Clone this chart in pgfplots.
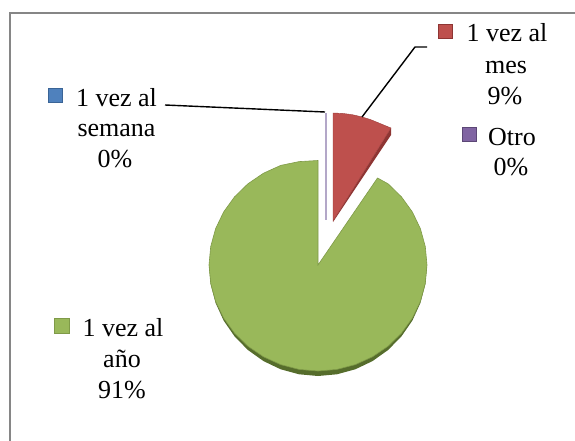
\documentclass[border=0pt]{standalone}
\usepackage{fontspec}
\setmainfont{Liberation Serif}
\usepackage{pgfplots}
\pgfplotsset{compat=1.18}
\definecolor{frame}{HTML}{868686}
\definecolor{azul}{HTML}{4F81BD}
\definecolor{azulb}{HTML}{3A6496}
\definecolor{rojo}{HTML}{BE504D}
\definecolor{rojob}{HTML}{8E3533}
\definecolor{verde}{HTML}{99B85A}
\definecolor{verdeb}{HTML}{566D2C}
\definecolor{verdel}{HTML}{7F9A48}
\definecolor{morado}{HTML}{8064A2}
\definecolor{moradob}{HTML}{5C4776}
\definecolor{moradol}{HTML}{B3A7C8}
\newcommand{\lab}[3]{\node[anchor=base, font=\fontsize{26bp}{31bp}\selectfont, inner sep=0pt] at (axis cs:#1,#2) {#3};}

\begin{document}
\begin{tikzpicture}
  \useasboundingbox (0,0) rectangle (575bp,441bp);
  \begin{axis}[
      anchor=south west, at={(0,0)},
      scale only axis, width=575bp, height=441bp,
      xmin=0, xmax=575, ymin=0, ymax=441, y dir=reverse,
      hide axis,
    ]
    % frame, only left and top show
    \addplot[frame, line width=2.2bp, mark=none] coordinates {(10,441) (10,13) (575,13)};

    % depth of the big slice
    \addplot[fill=verdeb, draw=none, mark=none] coordinates {
      (427,265) (425.3,284.3) (420.4,303) (412.4,320.5) (401.5,336.3) (388.1,350)
      (372.5,361.1) (355.3,369.3) (336.9,374.3) (318,376) (299.1,374.3) (280.7,369.3)
      (263.5,361.1) (247.9,350) (234.5,336.3) (223.6,320.5) (215.6,303) (210.7,284.3)
      (209,265)} -- cycle;

    % 1 vez al año, 91%
    \addplot[fill=verde, draw=verdel, line width=0.6bp, mark=none] coordinates {
      (318,265) (377.5,178) (388.1,183.8) (401.5,196.9) (412.4,212) (420.4,228.7)
      (425.3,246.6) (427,265) (425.3,283.4) (420.4,301.3) (412.4,318) (401.5,333.1)
      (388.1,346.2) (372.5,356.8) (355.3,364.6) (336.9,369.4) (318,371) (299.1,369.4)
      (280.7,364.6) (263.5,356.8) (247.9,346.2) (234.5,333.1) (223.6,318) (215.6,301.3)
      (210.7,283.4) (209,265) (210.7,246.6) (215.6,228.7) (223.6,212) (234.5,196.9)
      (247.9,183.8) (263.5,173.2) (280.7,165.4) (299.1,161.6) (318,160.5)} -- cycle;

    % 1 vez al mes, 9%
    \addplot[fill=rojob, draw=none, mark=none] coordinates {
      (391,128) (391,135) (333,222) (333,221)} -- cycle;
    \addplot[fill=rojo, draw=rojob!70!rojo, line width=0.4bp, mark=none] coordinates {
      (333,221) (333,113) (342.5,113.4) (351.9,114.6) (361.2,116.7) (370.3,119.5)
      (379.1,123.1) (391,128)} -- cycle;

    % the 0% slices come out as a thin line
    \addplot[moradol, line width=1.8bp, mark=none] coordinates {(326,113) (326,220)};

    % leader lines
    \addplot[black, line width=1.4bp, mark=none] coordinates {(165,105) (325,112)};
    \addplot[black, line width=1.4bp, mark=none] coordinates {(427,47) (415,47) (362,117)};

    % legend keys
    \addplot[only marks, mark=square*, mark size=7.2bp, mark options={draw=azulb, fill=azul, line width=0.8bp}] coordinates {(55.5,95.5)};
    \addplot[only marks, mark=square*, mark size=7.2bp, mark options={draw=rojob, fill=rojo, line width=0.8bp}] coordinates {(445.5,31.5)};
    \addplot[only marks, mark=square*, mark size=7.2bp, mark options={draw=moradob, fill=morado, line width=0.8bp}] coordinates {(469.5,134.5)};
    \addplot[only marks, mark=square*, mark size=7.2bp, mark options={draw=verdel, fill=verde, line width=0.8bp}] coordinates {(62,326)};

    \lab{116.5}{106}{1 vez al}
    \lab{116.5}{136}{semana}
    \lab{115}{167}{0\%}
    \lab{507}{42}{1 vez al}
    \lab{506}{74}{mes}
    \lab{505}{104}{9\%}
    \lab{512}{145}{Otro}
    \lab{511}{175}{0\%}
    \lab{123}{336}{1 vez al}
    \lab{122}{367}{año}
    \lab{122}{398}{91\%}
  \end{axis}
\end{tikzpicture}
\end{document}
